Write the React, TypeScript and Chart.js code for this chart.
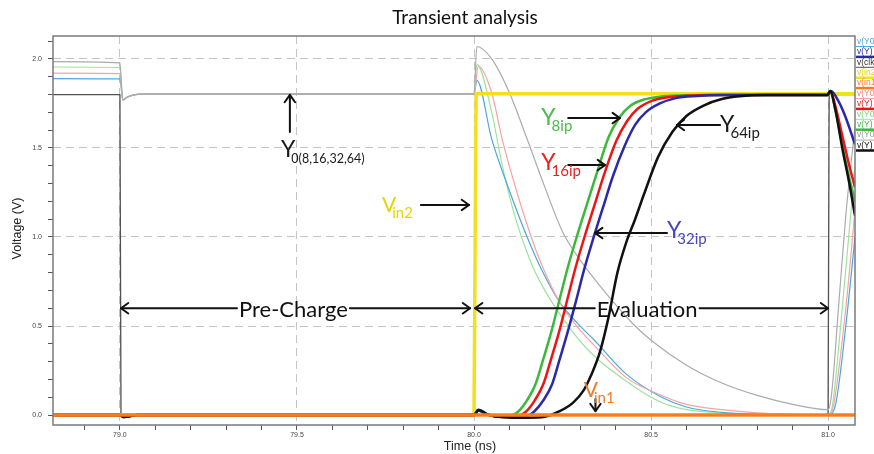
import React, { useEffect, useRef } from "react";
import { Chart, registerables } from "chart.js";

Chart.register(...registerables);

// ---------------- text ----------------
const chartTitle = "Transient analysis";
const xAxisTitle = "Time (ns)";
const yAxisTitle = "Voltage (V)";

// ---------------- axes ----------------
const timeRange = [78.811, 81.076];
const voltRange = [-0.056, 2.129];
const tickStep = 0.1;
const labelStep = 0.5;

// ---------------- series (time in ns, voltage in V) ----------------
const clkTime = [78.811, 79.0, 79.003, 81.0, 81.003, 81.076];
const clkVolt = [1.8, 1.8, 0, 0, 1.8, 1.8];

const in2Time = [78.811, 80.0, 80.006, 81.076];
const in2Volt = [0, 0, 1.805, 1.805];

const in1Time = [78.811, 81.076];
const in1Volt = [0, 0];

const y0_64Time = [78.811, 79.0, 79.008, 79.02, 79.04, 79.06, 80.0, 80.008, 80.05, 80.1, 80.15, 80.2, 80.25, 80.3, 80.35, 80.4, 80.45, 80.5, 80.6, 80.7, 80.8, 80.9, 81.0, 81.01, 81.03, 81.05, 81.076];
const y0_64Volt = [1.985, 1.978, 1.77, 1.785, 1.798, 1.802, 1.802, 2.07, 2.0, 1.81, 1.55, 1.28, 1.03, 0.87, 0.74, 0.62, 0.51, 0.42, 0.28, 0.18, 0.11, 0.06, 0.03, 0.12, 0.62, 1.12, 1.62];

const y0_8Time = [78.811, 79.0, 79.008, 79.02, 79.04, 79.06, 80.0, 80.008, 80.05, 80.08, 80.115, 80.16, 80.2, 80.27, 80.33, 80.43, 80.53, 80.6, 80.7, 80.8, 81.0, 81.012, 81.04, 81.076];
const y0_8Volt = [1.955, 1.952, 1.77, 1.785, 1.798, 1.802, 1.802, 1.97, 1.7, 1.4, 1.12, 0.86, 0.7, 0.49, 0.35, 0.19, 0.07, 0.03, 0.012, 0.004, 0.0, 0.05, 0.6, 1.4];

const y0_16Time = [78.811, 79.0, 79.008, 79.02, 79.04, 79.06, 80.0, 80.012, 80.05, 80.08, 80.12, 80.16, 80.19, 80.24, 80.29, 80.34, 80.43, 80.53, 80.6, 80.7, 80.8, 80.9, 81.0, 81.015, 81.05, 81.076];
const y0_16Volt = [1.92, 1.918, 1.77, 1.785, 1.798, 1.802, 1.802, 1.96, 1.81, 1.545, 1.26, 1.01, 0.85, 0.64, 0.5, 0.39, 0.21, 0.11, 0.06, 0.03, 0.012, 0.004, 0.0, 0.05, 0.6, 1.15];

const y0_32Time = [78.811, 79.0, 79.008, 79.02, 79.04, 79.06, 80.0, 80.008, 80.05, 80.1, 80.15, 80.19, 80.24, 80.29, 80.34, 80.43, 80.53, 80.6, 80.7, 80.8, 81.0, 81.02, 81.05, 81.076];
const y0_32Volt = [1.89, 1.888, 1.77, 1.785, 1.798, 1.802, 1.802, 1.88, 1.55, 1.26, 1.0, 0.82, 0.64, 0.52, 0.42, 0.23, 0.1, 0.045, 0.015, 0.005, 0.0, 0.05, 0.5, 1.0];

const y8Time = [78.811, 79.0, 79.01, 79.05, 80.0, 80.012, 80.04, 80.08, 80.1, 80.125, 80.15, 80.175, 80.195, 80.22, 80.243, 80.265, 80.29, 80.32, 80.347, 80.38, 80.41, 80.44, 80.48, 80.525, 80.58, 80.65, 80.998, 81.006, 81.02, 81.04, 81.06, 81.076];
const y8Volt = [0, 0, -0.01, 0, 0, 0.025, 0.002, -0.01, -0.008, 0.02, 0.084, 0.18, 0.31, 0.48, 0.66, 0.83, 1.0, 1.19, 1.36, 1.56, 1.67, 1.735, 1.772, 1.788, 1.795, 1.797, 1.797, 1.82, 1.72, 1.52, 1.33, 1.2];

const y16Time = [78.811, 79.0, 79.01, 79.05, 80.0, 80.012, 80.04, 80.08, 80.12, 80.147, 80.172, 80.197, 80.217, 80.242, 80.265, 80.287, 80.312, 80.342, 80.369, 80.402, 80.432, 80.462, 80.502, 80.547, 80.6, 80.67, 80.998, 81.006, 81.02, 81.04, 81.06, 81.076];
const y16Volt = [0, 0, -0.01, 0, 0, 0.025, 0.002, -0.01, -0.008, 0.02, 0.084, 0.18, 0.31, 0.48, 0.66, 0.83, 1.0, 1.19, 1.36, 1.54, 1.65, 1.72, 1.765, 1.785, 1.793, 1.797, 1.797, 1.82, 1.74, 1.57, 1.4, 1.28];

const y32Time = [78.811, 79.0, 79.01, 79.05, 80.0, 80.012, 80.04, 80.08, 80.145, 80.17, 80.195, 80.22, 80.24, 80.265, 80.288, 80.31, 80.335, 80.365, 80.392, 80.425, 80.455, 80.485, 80.525, 80.57, 80.63, 80.7, 80.998, 81.008, 81.03, 81.05, 81.076];
const y32Volt = [0, 0, -0.01, 0, 0, 0.025, 0.002, -0.01, -0.008, 0.02, 0.08, 0.17, 0.3, 0.47, 0.64, 0.81, 0.98, 1.17, 1.34, 1.51, 1.63, 1.7, 1.75, 1.78, 1.792, 1.797, 1.797, 1.82, 1.76, 1.67, 1.52];

const y64Time = [78.811, 79.0, 79.01, 79.05, 80.0, 80.012, 80.04, 80.08, 80.15, 80.2, 80.24, 80.28, 80.31, 80.33, 80.355, 80.38, 80.405, 80.43, 80.455, 80.48, 80.52, 80.56, 80.6, 80.65, 80.7, 80.75, 80.82, 80.998, 81.006, 81.02, 81.04, 81.06, 81.076];
const y64Volt = [0, 0, -0.012, 0, 0, 0.03, 0.002, -0.012, -0.015, -0.01, 0.02, 0.07, 0.14, 0.22, 0.35, 0.55, 0.8, 0.97, 1.1, 1.24, 1.45, 1.59, 1.68, 1.74, 1.775, 1.79, 1.797, 1.797, 1.82, 1.72, 1.5, 1.3, 1.12];

// legend labels
const legendNames = {
  y0_32: "v(Y0)", y32: "v(Y)", clk: "v(clk)", in2: "v(in2)", in1: "v(in1)",
  y0_16: "v(Y0)", y16: "v(Y)", y0_8: "v(Y0)", y8: "v(Y)", y0_64: "v(Y0)", y64: "v(Y)",
};
const legendOrder = ["y0_32", "y32", "clk", "in2", "in1", "y0_16", "y16", "y0_8", "y8", "y0_64", "y64"];

// annotation texts (positions in data units)
const labelNotes = [
  { main: "Y", sub: "0(8,16,32,64)", t: 79.455, v: 1.449, color: "#1a1a1a", subSize: 12.5 },
  { main: "V", sub: "in2", t: 79.74, v: 1.14, color: "#e6d400", subSize: 15 },
  { main: "Y", sub: "8ip", t: 80.19, v: 1.629, color: "#4cbb4c", subSize: 15 },
  { main: "Y", sub: "16ip", t: 80.19, v: 1.376, color: "#e52222", subSize: 15 },
  { main: "Y", sub: "32ip", t: 80.545, v: 0.994, color: "#4646c0", subSize: 15 },
  { main: "Y", sub: "64ip", t: 80.695, v: 1.59, color: "#1a1a1a", subSize: 15 },
  { main: "V", sub: "in1", t: 80.31, v: 0.101, color: "#f07a28", subSize: 15 },
];
const arrowNotes = [
  { t1: 79.48, v1: 1.59, t2: 79.48, v2: 1.798 },
  { t1: 79.85, v1: 1.18, t2: 79.986, v2: 1.18 },
  { t1: 80.266, v1: 1.668, t2: 80.412, v2: 1.668 },
  { t1: 80.266, v1: 1.404, t2: 80.37, v2: 1.404 },
  { t1: 80.545, v1: 1.022, t2: 80.342, v2: 1.022 },
  { t1: 80.695, v1: 1.629, t2: 80.573, v2: 1.629 },
  { t1: 80.343, v1: 0.09, t2: 80.343, v2: 0.022 },
];
const spanNotes = [
  { text: "Pre-Charge", t1: 79.003, t2: 79.989, tc: 79.49, v: 0.6 },
  { text: "Evaluation", t1: 80.003, t2: 81.0, tc: 80.489, v: 0.6 },
];

// ---------------- styles ----------------
const LATO = 'Lato, "Open Sans", sans-serif';
const ARIAL = '"Liberation Sans", Arial, sans-serif';
const GRID_COLOR = "#c4c4c4";
const FRAME_COLOR = "#7a7a7a";

type Series = { key: string; t: number[]; v: number[]; color: string; width: number; smooth: boolean; text: string };

// index 0 is drawn on top
const SERIES: Series[] = [
  { key: "in1", t: in1Time, v: in1Volt, color: "#ff7a1a", width: 3.5, smooth: false, text: "#ff7a1a" },
  { key: "y64", t: y64Time, v: y64Volt, color: "#111111", width: 2.5, smooth: true, text: "#111111" },
  { key: "y32", t: y32Time, v: y32Volt, color: "#2a2aa8", width: 2.5, smooth: true, text: "#2a2aa8" },
  { key: "y16", t: y16Time, v: y16Volt, color: "#ee1414", width: 2.5, smooth: true, text: "#ee1414" },
  { key: "y8", t: y8Time, v: y8Volt, color: "#3cb83c", width: 2.5, smooth: true, text: "#3cb83c" },
  { key: "in2", t: in2Time, v: in2Volt, color: "#f0e11c", width: 3.5, smooth: false, text: "#e0d000" },
  { key: "y0_64", t: y0_64Time, v: y0_64Volt, color: "#ababab", width: 1.2, smooth: true, text: "#9a9a9a" },
  { key: "y0_16", t: y0_16Time, v: y0_16Volt, color: "#f4a4a4", width: 1.2, smooth: true, text: "#f08080" },
  { key: "y0_32", t: y0_32Time, v: y0_32Volt, color: "#4aa8e0", width: 1.2, smooth: true, text: "#4aa8e0" },
  { key: "y0_8", t: y0_8Time, v: y0_8Volt, color: "#9ee29e", width: 1.2, smooth: true, text: "#80d080" },
  { key: "clk", t: clkTime, v: clkVolt, color: "#505050", width: 1.3, smooth: false, text: "#333333" },
];

const isMajor = (v: number) => Math.abs(v / labelStep - Math.round(v / labelStep)) < 1e-6;

function drawArrowHead(ctx: CanvasRenderingContext2D, x: number, y: number, ang: number, size = 9) {
  ctx.beginPath();
  ctx.moveTo(x - size * Math.cos(ang - 0.62), y - size * Math.sin(ang - 0.62));
  ctx.lineTo(x, y);
  ctx.lineTo(x - size * Math.cos(ang + 0.62), y - size * Math.sin(ang + 0.62));
  ctx.stroke();
}

const overlayPlugin = {
  id: "overlay",
  afterDatasetsDraw(chart: any) {
    const { ctx, chartArea: a } = chart;
    ctx.save();
    ctx.strokeStyle = FRAME_COLOR;
    ctx.lineWidth = 1.5;
    ctx.strokeRect(a.left, a.top, a.right - a.left, a.bottom - a.top);
    ctx.restore();
  },
  afterDraw(chart: any) {
    const { ctx, chartArea: a } = chart;
    const xs = chart.scales.x;
    const ys = chart.scales.y;
    const px = (t: number) => xs.getPixelForValue(t);
    const py = (v: number) => ys.getPixelForValue(v);
    ctx.save();

    // title
    ctx.fillStyle = "#111";
    ctx.font = `19px ${LATO}`;
    ctx.textAlign = "center";
    ctx.textBaseline = "alphabetic";
    ctx.fillText(chartTitle, (a.left + a.right) / 2 + 11, 24);

    // axis titles
    ctx.font = `12.5px ${ARIAL}`;
    ctx.fillStyle = "#222";
    ctx.textBaseline = "middle";
    ctx.fillText(xAxisTitle, 470, 447);
    ctx.save();
    ctx.translate(18, (a.top + a.bottom) / 2 - 2);
    ctx.rotate(-Math.PI / 2);
    ctx.fillText(yAxisTitle, 0, 0);
    ctx.restore();

    // arrows
    ctx.strokeStyle = "#111";
    ctx.lineWidth = 2;
    ctx.lineCap = "round";
    ctx.lineJoin = "round";
    for (const n of arrowNotes) {
      const x1 = px(n.t1), y1 = py(n.v1), x2 = px(n.t2), y2 = py(n.v2);
      ctx.beginPath();
      ctx.moveTo(x1, y1);
      ctx.lineTo(x2, y2);
      ctx.stroke();
      drawArrowHead(ctx, x2, y2, Math.atan2(y2 - y1, x2 - x1));
    }

    // span arrows with text
    ctx.font = `22px ${LATO}`;
    ctx.textAlign = "center";
    ctx.textBaseline = "middle";
    for (const s of spanNotes) {
      const y = py(s.v);
      const xc = px(s.tc);
      const w = ctx.measureText(s.text).width;
      const xl = px(s.t1), xr = px(s.t2);
      ctx.beginPath();
      ctx.moveTo(xl, y);
      ctx.lineTo(xc - w / 2 - 2, y);
      ctx.moveTo(xc + w / 2 + 2, y);
      ctx.lineTo(xr, y);
      ctx.stroke();
      drawArrowHead(ctx, xl, y, Math.PI);
      drawArrowHead(ctx, xr, y, 0);
      ctx.fillStyle = "#111";
      ctx.fillText(s.text, xc, y + 2);
    }

    // labels with subscripts
    ctx.textAlign = "left";
    ctx.textBaseline = "alphabetic";
    for (const n of labelNotes) {
      const x = px(n.t), y = py(n.v);
      ctx.fillStyle = n.color;
      ctx.font = `${n.main === "V" ? 21 : 23}px ${LATO}`;
      const mw = ctx.measureText(n.main).width;
      ctx.fillText(n.main, x, y);
      ctx.font = `${n.subSize}px ${LATO}`;
      ctx.fillText(n.sub, x + mw * 0.72, y + 6);
    }

    // side legend (clipped by canvas edge)
    const byKey: Record<string, Series> = {};
    SERIES.forEach((s) => (byKey[s.key] = s));
    ctx.font = `8.5px ${ARIAL}`;
    ctx.textBaseline = "middle";
    legendOrder.forEach((key, i) => {
      const s = byKey[key];
      const yc = a.top + 5.5 + i * 10.4;
      ctx.fillStyle = s.text;
      ctx.fillText((legendNames as any)[key], a.right + 2, yc);
      ctx.strokeStyle = s.color;
      ctx.lineWidth = s.width > 2 ? 2.5 : 1;
      ctx.lineCap = "butt";
      ctx.beginPath();
      ctx.moveTo(a.right + 1, yc + 5);
      ctx.lineTo(chart.width, yc + 5);
      ctx.stroke();
    });

    ctx.restore();
  },
};

export default function App() {
  const ref = useRef<HTMLCanvasElement | null>(null);
  useEffect(() => {
    if (!ref.current) return;
    const gridColor = (c: any) => (c.tick && isMajor(c.tick.value) ? GRID_COLOR : "rgba(0,0,0,0)");
    const chart = new Chart(ref.current, {
      type: "line",
      data: {
        datasets: SERIES.map((s) => ({
          label: (legendNames as any)[s.key],
          data: s.t.map((t, i) => ({ x: t, y: s.v[i] })),
          borderColor: s.color,
          backgroundColor: s.color,
          borderWidth: s.width,
          pointRadius: 0,
          pointHoverRadius: 0,
          fill: false,
          tension: 0,
          cubicInterpolationMode: s.smooth ? "monotone" : "default",
          borderJoinStyle: "round",
        })),
      },
      options: {
        responsive: false,
        animation: false,
        events: [],
        layout: { padding: { left: 0, right: 19, top: 36, bottom: 0 } },
        plugins: { legend: { display: false }, title: { display: false }, tooltip: { enabled: false } },
        scales: {
          x: {
            type: "linear",
            min: timeRange[0],
            max: timeRange[1],
            afterFit: (s: any) => { s.height = 29; },
            ticks: {
              stepSize: tickStep,
              includeBounds: false,
              autoSkip: false,
              maxRotation: 0,
              minRotation: 0,
              padding: 1,
              color: "#444",
              font: { family: ARIAL, size: 7 },
              callback: (v: any) => (isMajor(Number(v)) ? Number(v).toFixed(1) : ""),
            },
            grid: { color: gridColor, tickColor: "#555", tickLength: 5, lineWidth: 1, drawTicks: true },
            border: { display: false, dash: [8, 5] },
          },
          y: {
            type: "linear",
            min: voltRange[0],
            max: voltRange[1],
            afterFit: (s: any) => { s.width = 53; },
            ticks: {
              stepSize: tickStep,
              includeBounds: false,
              autoSkip: false,
              padding: 6,
              color: "#444",
              font: { family: ARIAL, size: 7 },
              callback: (v: any) => (isMajor(Number(v)) ? Number(v).toFixed(1) : ""),
            },
            grid: { color: gridColor, tickColor: "#555", tickLength: 5, lineWidth: 1, drawTicks: true },
            border: { display: false, dash: [8, 5] },
          },
        },
      } as any,
      plugins: [overlayPlugin],
    });
    return () => chart.destroy();
  }, []);
  return (
    <div style={{ position: "fixed", left: 0, top: 0, width: 874, height: 454, background: "#fff", overflow: "hidden" }}>
      <canvas ref={ref} width={874} height={454} style={{ display: "block" }} />
    </div>
  );
}
